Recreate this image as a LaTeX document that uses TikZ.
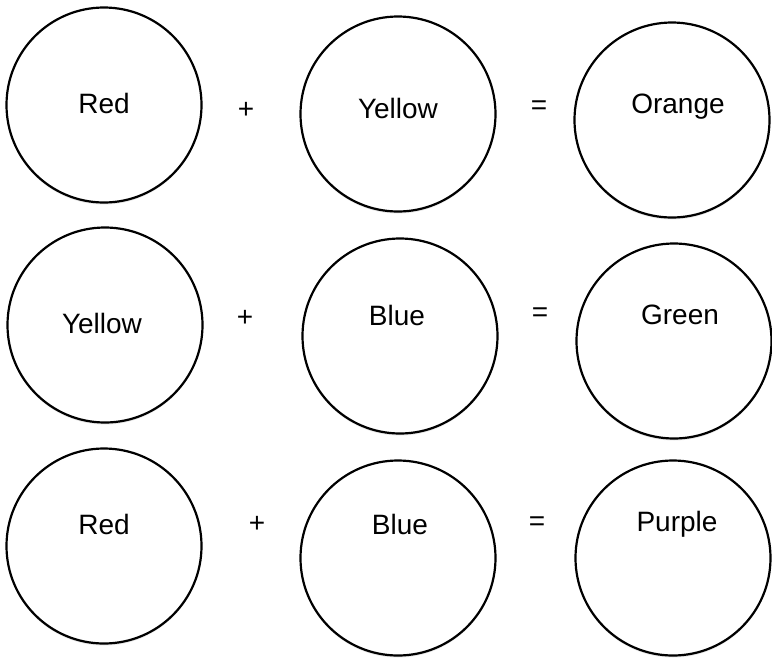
\documentclass[tikz,border=0pt]{standalone}
\usepackage{fontspec}
\setmainfont{Liberation Sans}
\usetikzlibrary{shadows}
\tikzset{
  mix/.style ={circle, draw=black, line width=2.2pt, fill=white, minimum size=195pt,
               inner sep=0pt, drop shadow={shadow xshift=0pt, shadow yshift=-2pt, opacity=0.2}},
  clr/.style ={font=\fontsize{28}{32}\selectfont, inner sep=0pt},
  op/.style  ={font=\fontsize{28}{32}\selectfont, inner sep=0pt}
}
\begin{document}
\begin{tikzpicture}[x=1pt, y=-1pt]
  \useasboundingbox (0,0) rectangle (772,662);
  % first row
  \node[mix] (c11) at (104,105) {};
  \node[mix] (c12) at (398,114) {};
  \node[mix] (c13) at (672,120) {};
  \node[clr] (t11) at (104,103) {Red};
  \node[clr] (t12) at (398,108) {Yellow};
  \node[clr] (t13) at (678,107) {Orange};
  \node[op]  (p1)  at (246,110) {+};
  \node[op]  (e1)  at (539,108) {=};
  % second row
  \node[mix] (c21) at (105,325) {};
  \node[mix] (c22) at (400,336) {};
  \node[mix] (c23) at (674,341) {};
  \node[clr] (t21) at (102,323) {Yellow};
  \node[clr] (t22) at (397,315) {Blue};
  \node[clr] (t23) at (680,315) {Green};
  \node[op]  (p2)  at (245,318) {+};
  \node[op]  (e2)  at (540,315) {=};
  % third row
  \node[mix] (c31) at (104,546) {};
  \node[mix] (c32) at (398,558) {};
  \node[mix] (c33) at (673,558) {};
  \node[clr] (t31) at (104,524) {Red};
  \node[clr] (t32) at (400,524) {Blue};
  \node[clr] (t33) at (677,524) {Purple};
  \node[op]  (p3)  at (257,524) {+};
  \node[op]  (e3)  at (537,524) {=};
\end{tikzpicture}
\end{document}
